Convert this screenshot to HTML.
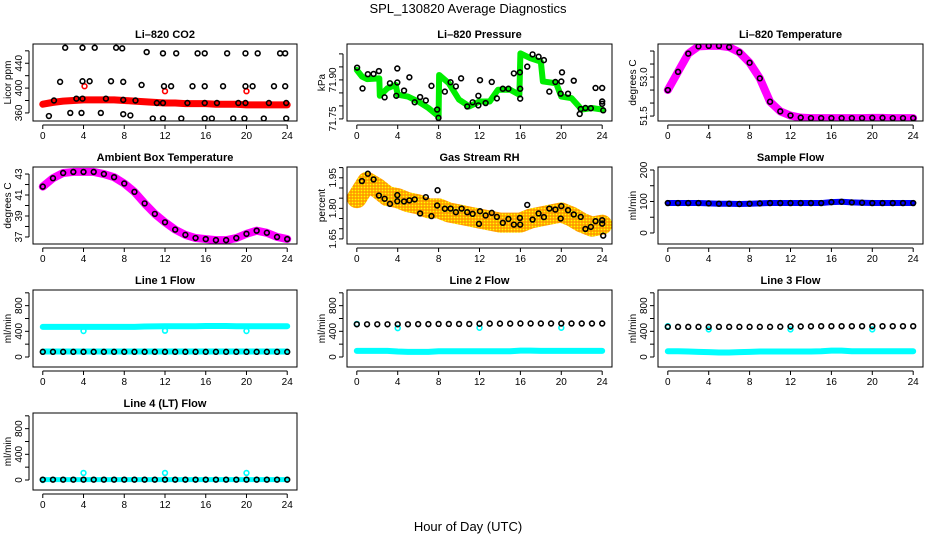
<!DOCTYPE html>
<html><head><meta charset="utf-8"><style>
html,body{margin:0;padding:0;background:#fff}
svg{display:block;font-family:"Liberation Sans",Arial,sans-serif}
</style></head><body>
<svg id="chart" width="936" height="540" viewBox="0 0 936 540" xmlns="http://www.w3.org/2000/svg">
<defs>
<pattern id="rhdots" width="3" height="3" patternUnits="userSpaceOnUse"><rect width="3" height="3" fill="#ff9a00"/><circle cx="1.5" cy="1.5" r="0.9" fill="#ffff00"/></pattern>
</defs>
<rect width="936" height="540" fill="#fff"/>
<text x="468" y="13" font-size="13" text-anchor="middle">SPL_130820  Average Diagnostics</text>
<text x="468" y="531" font-size="13" text-anchor="middle">Hour of Day (UTC)</text>
</svg>
<script>
// ---------- data ----------
const hours = [0,1,2,3,4,5,6,7,8,9,10,11,12,13,14,15,16,17,18,19,20,21,22,23,24];
const xTickLabels = ["0","4","8","12","16","20","24"];

// CO2
const co2Band = [374,377,379,380,381,381,381,381,380,379,378,377,376,376,375,375,375,374,374,374,373,373,373,373,373];
const co2PtsHr = [2.2,3.9,5.1,7.2,7.8,10.2,11.8,13.1,15.2,15.9,18.1,19.9,21.1,23.3,23.8,
 1.7,3.9,4.6,6.7,7.9,9.7,11.9,12.6,14.7,15.9,17.7,19.9,20.6,22.7,23.8,
 1.1,3.3,3.9,6.2,7.9,9.1,11.2,11.8,14.2,15.9,17.1,19.2,19.9,22.2,23.9,
 0.6,2.7,3.8,5.7,7.9,8.6,10.8,11.8,13.6,15.9,16.6,18.7,19.8,21.7,23.9];
const co2PtsVal = [465,465,465,465,464,458,456,456,456,456,456,456,456,456,456,
 410,411,411,411,410,405,403,403,403,403,403,403,403,403,403,
 380,383,383,383,381,380,376,376,376,376,376,376,376,376,376,
 355,360,360,360,358,356,351,351,351,351,351,351,351,351,351];
const co2RedHr = [4.1,12.0,20.0];
const co2RedVal = [403,395,395];

// Pressure
const presBandHr = [0,0.5,1,2.2,2.25,3,3.8,4,5,6,7,8,8.05,9,10,11,12,13,13.8,15,15.9,16,17,18,18.2,19.5,20,21,22,23,24];
const presBandVal = [71.938,71.913,71.903,71.906,71.839,71.868,71.881,71.843,71.836,71.817,71.792,71.760,71.919,71.887,71.824,71.798,71.817,71.817,71.862,71.862,71.843,72.002,71.983,71.970,71.894,71.887,71.836,71.830,71.786,71.792,71.786];
const presPtsHr = [0.03,0.56,1.08,1.64,2.16,2.72,3.24,3.96,3.86,3.96,4.62,5.14,5.66,6.19,6.75,7.30,7.86,7.99,8.61,9.17,9.69,10.2,10.8,11.33,11.89,11.89,12.05,12.6,13.2,13.7,14.28,14.83,15.36,15.95,15.98,15.98,16.67,17.19,17.78,18.3,18.83,19.42,20.0,20.07,19.94,20.66,21.22,21.9,22.36,22.89,23.35,24.0,24.0,24.0,24.1,21.8];
const presPtsVal = [71.947,71.867,71.922,71.923,71.934,71.833,71.887,71.890,71.839,71.944,71.859,71.910,71.814,71.834,71.821,71.877,71.786,71.754,71.855,71.891,71.875,71.906,71.798,71.814,71.802,71.839,71.899,71.811,71.892,71.829,71.866,71.866,71.925,71.929,71.866,71.828,71.951,71.998,71.989,71.976,71.855,71.892,71.894,71.929,71.847,71.847,71.897,71.788,71.792,71.791,71.869,71.869,71.817,71.808,71.783,71.769];

// Li-820 temperature
const liTemp = [52.5,53.2,53.9,54.18,54.2,54.2,54.15,53.95,53.55,52.95,52.05,51.68,51.52,51.44,51.42,51.42,51.42,51.42,51.42,51.42,51.43,51.43,51.42,51.42,51.42];
// Ambient box temperature
const ambTemp = [41.8,42.6,43.1,43.2,43.2,43.2,43.0,42.7,42.1,41.3,40.2,39.2,38.4,37.7,37.2,36.9,36.8,36.7,36.7,36.9,37.3,37.6,37.4,37.0,36.8];
// Gas stream RH
const rhBand = [1.85,1.93,1.90,1.86,1.85,1.83,1.82,1.80,1.80,1.78,1.77,1.76,1.75,1.74,1.73,1.73,1.73,1.75,1.76,1.77,1.78,1.76,1.73,1.71,1.72];
const rhPtsHr = [0.5,1.08,1.64,2.16,2.72,3.24,3.96,3.96,4.62,5.14,5.66,6.19,6.75,7.30,7.9,7.86,8.61,9.17,9.69,10.25,10.8,11.33,11.95,12.05,12.6,13.2,13.7,14.28,14.83,15.36,15.95,15.98,16.67,17.19,17.78,18.3,18.83,19.42,20.0,19.94,20.66,21.22,21.9,22.36,22.89,23.35,24.0,24.0,24.1];
const rhPtsVal = [1.934,1.970,1.942,1.863,1.847,1.822,1.865,1.835,1.834,1.839,1.844,1.775,1.855,1.762,1.889,1.814,1.798,1.799,1.781,1.799,1.781,1.773,1.724,1.786,1.765,1.778,1.758,1.729,1.748,1.720,1.753,1.720,1.817,1.745,1.775,1.757,1.799,1.794,1.811,1.750,1.791,1.770,1.758,1.699,1.709,1.737,1.742,1.725,1.666];
// Sample flow
const sampleFlow = [95,95,95,95,94,93,93,92,93,94,95,95,95,95,95,95,98,99,97,96,95,95,95,95,95];
// Line flows
const line1High = [470,470,470,470,470,470,470,470,470,470,475,478,480,480,480,480,482,482,482,480,480,480,480,480,480];
const line1Low  = [85,85,85,85,85,85,85,85,85,85,85,85,85,85,85,85,85,85,85,85,85,85,85,85,85];
const line1Black= [80,80,80,80,80,80,80,80,80,80,80,80,80,80,80,80,80,80,80,80,80,80,80,80,80];
const line1DipHr = [4,12,20];
const line1DipVal = [405,410,405];
const line2Black = [510,510,510,510,510,510,512,512,515,515,515,515,518,520,520,520,522,522,522,522,522,522,522,522,522];
const line2Low   = [95,95,95,95,85,80,80,80,90,90,90,90,90,90,90,90,100,100,95,95,95,95,95,95,95];
const line2OutHr = [0,4,12,20];
const line2OutVal = [515,450,455,455];
const line3Black = [470,470,470,470,470,470,470,470,470,470,470,472,475,475,478,480,480,480,480,480,480,480,480,480,480];
const line3Low   = [90,90,85,80,75,70,70,75,80,85,85,85,85,85,85,90,100,100,90,90,90,90,90,90,90];
const line3OutHr = [0,4,12,20];
const line3OutVal = [480,430,430,430];
const line4Black = [5,5,5,5,5,5,5,5,5,5,5,5,5,5,5,5,5,5,5,5,5,5,5,5,5];
const line4OutHr = [0,4,12,20];
const line4OutVal = [0,110,110,110];

// ---------- drawing helpers ----------
const svg = document.getElementById('chart');
const NS = 'http://www.w3.org/2000/svg';
function mk(tag, attrs, parent){const e=document.createElementNS(NS,tag);for(const k in attrs)e.setAttribute(k,attrs[k]);(parent||svg).appendChild(e);return e;}
const COLS=[[33,297],[347,612],[658,923]];
const ROWS=[[44,121],[167,244],[290,367],[413,490]];
const XMIN=-0.96, XMAX=24.96;

function panel(name,title,col,row,ylim,ticks,labels,ylab){
  const [x0,x1]=COLS[col],[y0,y1]=ROWS[row];
  const g=mk('g',{});
  
  
  const sx=v=>x0+(v-XMIN)/(XMAX-XMIN)*(x1-x0);
  const sy=v=>y1-(v-ylim[0])/(ylim[1]-ylim[0])*(y1-y0);
  const t=mk('text',{x:(x0+x1)/2,y:y0-6,'font-size':11,'font-weight':'bold','text-anchor':'middle'},g);
  t.textContent=title;
  
  
  const xa=mk('g',{},g);
  
  
  mk('line',{x1:sx(0),x2:sx(24),y1:y1+4,y2:y1+4,stroke:'#000','stroke-width':1},xa);
  xTickLabels.forEach(lb=>{const v=+lb;const X=sx(v);
    mk('line',{x1:X,x2:X,y1:y1+4,y2:y1+8,stroke:'#000','stroke-width':1},xa);
    const tx=mk('text',{x:X,y:y1+18,'font-size':10,'text-anchor':'middle'},xa);tx.textContent=lb;});
  const ya=mk('g',{},g);
  
  
  mk('line',{x1:x0-4,x2:x0-4,y1:sy(ticks[0]),y2:sy(ticks[ticks.length-1]),stroke:'#000','stroke-width':1},ya);
  ticks.forEach(v=>{const Y=sy(v);
    mk('line',{x1:x0-8,x2:x0-4,y1:Y,y2:Y,stroke:'#000','stroke-width':1},ya);});
  labels.forEach(lb=>{const Y=sy(+lb);
    const tx=mk('text',{x:0,y:0,'font-size':10,'text-anchor':'middle',transform:`translate(${x0-11},${Y}) rotate(-90)`},ya);tx.textContent=lb;});
  const yl=mk('text',{x:0,y:0,'font-size':10,'text-anchor':'middle',transform:`translate(${x0-22},${(y0+y1)/2}) rotate(-90)`},ya);
  yl.textContent=ylab;
  
  
  const clipId='clip-'+name;
  const cp=mk('clipPath',{id:clipId},g);mk('rect',{x:x0,y:y0,width:x1-x0,height:y1-y0},cp);
  const plot=mk('g',{'clip-path':`url(#${clipId})`},g);
  const box=mk('rect',{x:x0,y:y0,width:x1-x0,height:y1-y0,fill:'none',stroke:'#000','stroke-width':1},g);
  
  
  return {sx,sy,plot,name};
}
function band(P,xs,ys,color,w,nm){
  const pl=mk('polyline',{points:xs.map((x,i)=>P.sx(x)+','+P.sy(ys[i])).join(' '),fill:'none',stroke:color,'stroke-width':w,'stroke-linejoin':'round','stroke-linecap':'round'},P.plot);
  
  
}
function circles(P,xs,ys,color,nm,r){
  xs.forEach((x,i)=>{const c=mk('circle',{cx:P.sx(x),cy:P.sy(ys[i]),r:r||2.4,fill:'none',stroke:color,'stroke-width':1.6},P.plot);
    
    });
}
function rng(a,b,s){const o=[];for(let v=a;v<=b+1e-9;v+=s)o.push(+v.toFixed(3));return o;}

// ---------- panels ----------
let P;
P=panel('co2','Li\u2013820 CO2',0,0,[347,471],rng(360,460,20),['360','400','440'],'Licor ppm');
band(P,hours,co2Band,'#ff0000',7,'co2-band');
circles(P,co2RedHr,co2RedVal,'#ff0000','co2-red-point');
circles(P,co2PtsHr,co2PtsVal,'#000','co2-point');

P=panel('pressure','Li\u2013820 Pressure',1,0,[71.742,72.038],rng(71.75,72.0,0.05),['71.75','71.90'],'kPa');
band(P,presBandHr,presBandVal,'#00ee00',6,'pressure-band');
circles(P,presPtsHr,presPtsVal,'#000','pressure-point');

P=panel('li-temp','Li\u2013820 Temperature',2,0,[51.31,54.27],rng(51.5,54,0.5),['51.5','53.0'],'degrees C');
band(P,hours,liTemp,'#ff00ff',8,'li-temp-band');
circles(P,hours,liTemp,'#000','li-temp-point');

P=panel('ambient','Ambient Box Temperature',0,1,[36.33,43.67],rng(37,43,1),['37','39','41','43'],'degrees C');
band(P,hours,ambTemp,'#ff00ff',8,'ambient-band');
circles(P,hours,ambTemp,'#000','ambient-point');

P=panel('rh','Gas Stream RH',1,1,[1.625,2.003],rng(1.65,2.0,0.05),['1.65','1.80','1.95'],'percent');
band(P,hours,rhBand,'url(#rhdots)',20,'rh-band');
circles(P,rhPtsHr,rhPtsVal,'#000','rh-point');

P=panel('sample-flow','Sample Flow',2,1,[-35,209.5],rng(0,200,50),['0','100','200'],'ml/min');
band(P,hours,sampleFlow,'#0000ff',6,'sample-flow-band');
circles(P,hours,sampleFlow,'#000','sample-flow-point');

const flowTicks=rng(0,1000,200), flowLabels=['0','400','800'], FL=[-156,1044];
P=panel('line1','Line 1 Flow',0,2,FL,flowTicks,flowLabels,'ml/min');
band(P,hours,line1High,'#00ffff',6,'line1-high-band');
band(P,hours,line1Low,'#00ffff',6,'line1-low-band');
circles(P,line1DipHr,line1DipVal,'#00ffff','line1-dip-point');
circles(P,hours,line1Black,'#000','line1-point');

P=panel('line2','Line 2 Flow',1,2,FL,flowTicks,flowLabels,'ml/min');
band(P,hours,line2Low,'#00ffff',6,'line2-low-band');
circles(P,line2OutHr,line2OutVal,'#00ffff','line2-cyan-point');
circles(P,hours,line2Black,'#000','line2-point');

P=panel('line3','Line 3 Flow',2,2,FL,flowTicks,flowLabels,'ml/min');
band(P,hours,line3Low,'#00ffff',6,'line3-low-band');
circles(P,line3OutHr,line3OutVal,'#00ffff','line3-cyan-point');
circles(P,hours,line3Black,'#000','line3-point');

P=panel('line4','Line 4 (LT) Flow',0,3,FL,flowTicks,flowLabels,'ml/min');
band(P,hours,line4Black,'#00ffff',5,'line4-band');
circles(P,line4OutHr,line4OutVal,'#00ffff','line4-cyan-point');
circles(P,hours,line4Black,'#000','line4-point');
</script>
</body></html>
